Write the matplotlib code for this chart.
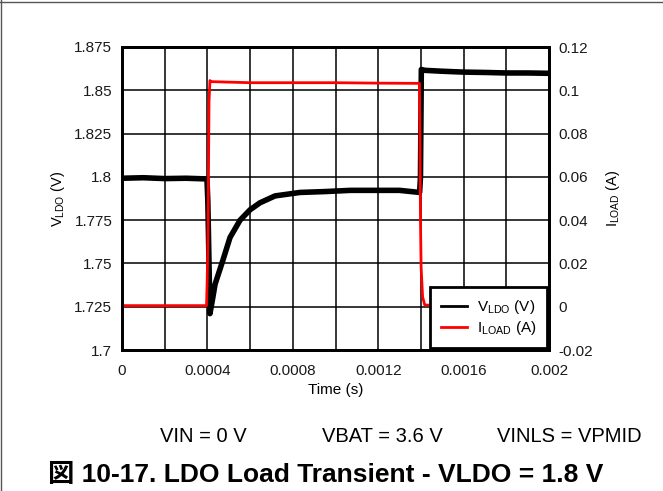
import numpy as np
import matplotlib.pyplot as plt
from matplotlib.ticker import MultipleLocator, FuncFormatter
from matplotlib.lines import Line2D

plt.rcParams['font.family'] = ['Liberation Sans', 'Noto Sans CJK JP', 'DejaVu Sans']
plt.rcParams['mathtext.fontset'] = 'custom'
plt.rcParams['mathtext.rm'] = 'Liberation Sans'
plt.rcParams['mathtext.it'] = 'Liberation Sans'

# VLDO trace (s, V)
t_v = [0, 0.0001, 0.0002, 0.0003, 0.000398, 0.000402, 0.000406, 0.000412, 0.000425,
       0.000436, 0.000473, 0.000506, 0.000553, 0.0006, 0.000646, 0.000717, 0.000834,
       0.00095, 0.00107, 0.0012, 0.0013, 0.001394, 0.001398, 0.001402, 0.00142,
       0.0015, 0.0016, 0.0017, 0.0018, 0.0019, 0.002]
v_ldo = [1.7992, 1.7995, 1.799, 1.7992, 1.7988, 1.786, 1.760, 1.721, 1.730,
         1.738, 1.752, 1.765, 1.775, 1.781, 1.785, 1.789, 1.791,
         1.7915, 1.7922, 1.7922, 1.7922, 1.791, 1.800, 1.862, 1.8615,
         1.861, 1.8605, 1.8603, 1.860, 1.860, 1.8598]

# ILOAD trace (s, A)
t_i = [0, 0.0002, 0.000396, 0.000399, 0.000403, 0.0004076, 0.000412, 0.000417,
       0.0006, 0.0008, 0.001, 0.0012, 0.001393, 0.001396, 0.001398, 0.001401,
       0.001408, 0.001418, 0.0015]
i_load = [0.0005, 0.0005, 0.0005, 0.012, 0.035, 0.095, 0.1045, 0.1040,
          0.1035, 0.1035, 0.1035, 0.1033, 0.1032, 0.0738, 0.040, 0.0183,
          0.0045, 0.0008, 0.0005]

fig = plt.figure(figsize=(6.63, 4.91), dpi=100)
ax = fig.add_axes([122/663, 1-350/491, 427/663, 303/491])
ax2 = ax.twinx()

ax.plot(t_v, v_ldo, color='black', lw=4, solid_joinstyle='round')
ax2.plot(t_i, i_load, color='#ff0000', lw=2)

ax.set_xlim(0, 0.002)
ax.set_ylim(1.7, 1.875)
ax2.set_ylim(-0.02, 0.12)

ax.xaxis.set_major_locator(MultipleLocator(0.0004))
ax.xaxis.set_minor_locator(MultipleLocator(0.0002))
ax.yaxis.set_major_locator(MultipleLocator(0.025))
ax2.yaxis.set_major_locator(MultipleLocator(0.02))

fmt = FuncFormatter(lambda v, p: ('%.4f' % v).rstrip('0').rstrip('.') if abs(v) > 1e-12 else '0')
ax.xaxis.set_major_formatter(fmt)
ax.yaxis.set_major_formatter(fmt)
ax2.yaxis.set_major_formatter(fmt)

ax.grid(True, which='both', color='black', lw=1.1)
ax.set_axisbelow(True)
for a in (ax, ax2):
    a.tick_params(which='both', length=0, labelsize=11, pad=7, colors='#1a1a1a')
    for s in a.spines.values():
        s.set_linewidth(2)
        s.set_color('black')
ax.tick_params(axis='x', pad=10)

ax.set_xlabel('Time (s)', fontsize=11, labelpad=4)
ax.set_ylabel(r'V$_{\mathrm{LDO}}$ (V)', fontsize=10.5, labelpad=5)
ax2.set_ylabel(r'I$_{\mathrm{LOAD}}$ (A)', fontsize=10.5, labelpad=8)

handles = [Line2D([], [], color='black', lw=2),
           Line2D([], [], color='#ff0000', lw=2)]
leg = ax2.legend(handles, [r'V$_{\mathrm{LDO}}$ (V)', r'I$_{\mathrm{LOAD}}$ (A)'],
                 loc='lower right', fontsize=11, fancybox=False, framealpha=1,
                 edgecolor='black', borderaxespad=0.1, handlelength=1.7,
                 handletextpad=0.6, labelspacing=0.2, borderpad=0.75)
leg.get_frame().set_linewidth(2)

fig.text(160/663, 1-437/491, 'VIN = 0 V', fontsize=14.5, va='center', ha='left')
fig.text(322/663, 1-437/491, 'VBAT = 3.6 V', fontsize=14.5, va='center', ha='left')
fig.text(497/663, 1-437/491, 'VINLS = VPMID', fontsize=14.5, va='center', ha='left')
fig.text(326/663, 1-475/491, '図 10-17. LDO Load Transient - VLDO = 1.8 V',
         fontsize=19, fontweight='bold', va='center', ha='center')

# page border lines
fig.add_artist(Line2D([0, 1], [1-2/491, 1-2/491], color='#555555', lw=1))
fig.add_artist(Line2D([1/663, 1/663], [0, 1], color='#555555', lw=1))

fig.savefig('out.png', dpi=100)
